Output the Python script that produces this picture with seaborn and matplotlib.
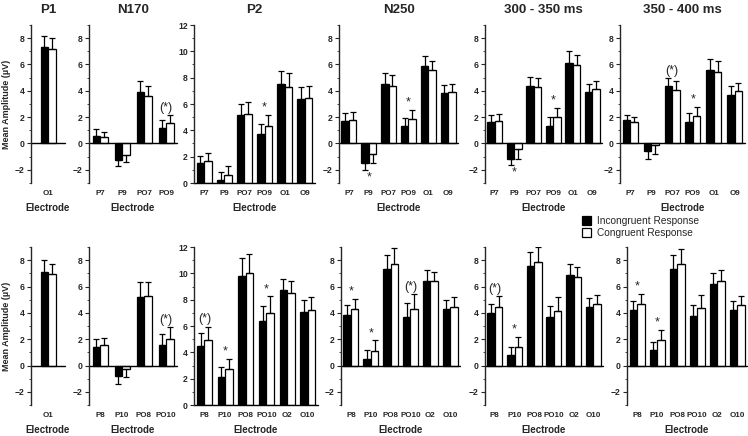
import matplotlib
matplotlib.use("Agg")
import matplotlib.pyplot as plt
from matplotlib.patches import Patch
from matplotlib.ticker import MultipleLocator
import pandas as pd
import seaborn as sns

components = ["P1", "N170", "P2", "N250", "300 - 350 ms", "350 - 400 ms"]
conditions = ["Incongruent Response", "Congruent Response"]

# top row (left hemisphere / midline electrodes)
left_electrodes = [
    ["O1"],
    ["P7", "P9", "PO7", "PO9"],
    ["P7", "P9", "PO7", "PO9", "O1", "O9"],
    ["P7", "P9", "PO7", "PO9", "O1", "O9"],
    ["P7", "P9", "PO7", "PO9", "O1", "O9"],
    ["P7", "P9", "PO7", "PO9", "O1", "O9"],
]
left_incongruent = [
    [7.3],
    [0.6, -1.25, 3.9, 1.2],
    [1.5, 0.2, 5.2, 3.75, 7.5, 6.35],
    [1.7, -1.45, 4.5, 1.3, 5.85, 3.8],
    [1.65, -1.15, 4.4, 1.35, 6.15, 3.9],
    [1.75, -0.6, 4.35, 1.65, 5.55, 3.7],
]
left_incongruent_se = [
    [0.85],
    [0.5, 0.45, 0.85, 0.6],
    [0.55, 0.6, 0.8, 0.75, 1.0, 0.95],
    [0.6, 0.6, 0.85, 0.65, 0.8, 0.65],
    [0.5, 0.5, 0.65, 0.65, 0.85, 0.65],
    [0.45, 0.55, 0.6, 0.65, 0.85, 0.65],
]
left_congruent = [
    [7.15],
    [0.5, -0.85, 3.6, 1.55],
    [1.7, 0.6, 5.25, 4.3, 7.3, 6.45],
    [1.8, -0.8, 4.4, 1.85, 5.55, 3.9],
    [1.7, -0.4, 4.3, 2.0, 5.95, 4.15],
    [1.65, -0.15, 4.1, 2.1, 5.45, 4.0],
]
left_congruent_se = [
    [0.9],
    [0.4, 0.55, 0.8, 0.6],
    [0.6, 0.7, 0.9, 0.9, 1.05, 0.9],
    [0.6, 0.65, 0.8, 0.7, 0.75, 0.65],
    [0.55, 0.75, 0.7, 0.7, 0.75, 0.6],
    [0.4, 0.65, 0.65, 0.7, 0.85, 0.6],
]
left_marks = [
    {},
    {"PO9": "(*)"},
    {"PO9": "*"},
    {"P9": "*", "PO9": "*"},
    {"P9": "*", "PO9": "*"},
    {"PO7": "(*)", "PO9": "*"},
]

# bottom row (right hemisphere / midline electrodes)
right_electrodes = [
    ["O1"],
    ["P8", "P10", "PO8", "PO10"],
    ["P8", "P10", "PO8", "PO10", "O2", "O10"],
    ["P8", "P10", "PO8", "PO10", "O2", "O10"],
    ["P8", "P10", "PO8", "PO10", "O2", "O10"],
    ["P8", "P10", "PO8", "PO10", "O2", "O10"],
]
right_incongruent = [
    [7.07],
    [1.39, -0.78, 5.2, 1.57],
    [4.5, 2.1, 9.8, 6.35, 8.7, 7.05],
    [3.8, 0.5, 7.32, 3.69, 6.44, 4.27],
    [4.0, 0.78, 7.58, 3.71, 6.84, 4.44],
    [4.2, 1.19, 7.35, 3.79, 6.21, 4.22],
]
right_incongruent_se = [
    [0.93],
    [0.6, 0.6, 1.16, 0.8],
    [0.95, 0.8, 1.4, 1.2, 0.9, 0.95],
    [0.77, 0.7, 1.11, 1.03, 0.78, 0.73],
    [0.67, 0.63, 1.01, 0.84, 0.84, 0.69],
    [0.72, 0.58, 1.08, 0.78, 0.84, 0.65],
]
right_congruent = [
    [6.94],
    [1.52, -0.28, 5.25, 2.0],
    [4.9, 2.7, 10.05, 6.95, 8.5, 7.2],
    [4.27, 1.13, 7.68, 4.32, 6.39, 4.44],
    [4.44, 1.41, 7.83, 4.17, 6.72, 4.7],
    [4.65, 1.97, 7.68, 4.34, 6.39, 4.6],
]
right_congruent_se = [
    [0.76],
    [0.55, 0.6, 1.09, 0.9],
    [1.05, 0.8, 1.45, 1.3, 0.9, 1.0],
    [0.8, 0.77, 1.28, 1.08, 0.73, 0.78],
    [0.84, 0.79, 1.17, 1.06, 0.78, 0.65],
    [0.8, 0.73, 1.18, 0.99, 0.83, 0.65],
]
right_marks = [
    {},
    {"PO10": "(*)"},
    {"P8": "(*)", "P10": "*", "PO10": "*"},
    {"P8": "*", "P10": "*", "PO10": "(*)"},
    {"P8": "(*)", "P10": "*"},
    {"P8": "*", "P10": "*"},
]

W, H = 748, 436
top_spans = [(31, 65), (89, 177), (194, 315), (339, 458), (485, 602), (620, 745)]
bottom_spans = [(31, 65), (89, 177), (194, 318), (341, 460), (485, 603), (627, 747)]
rows = [(25, 183), (247, 405)]
PAIR_PX = 15  # width of a black+white bar pair in pixels

sns.set_style("ticks")
plt.rcParams["font.family"] = ["Liberation Sans", "DejaVu Sans"]

fig = plt.figure(figsize=(W / 100, H / 100), dpi=100)


def draw_panel(ax, elecs, inc, inc_se, con, con_se, marks, comp, bar_w):
    df = pd.DataFrame({
        "electrode": elecs * 2,
        "amp": inc + con,
        "cond": [conditions[0]] * len(elecs) + [conditions[1]] * len(elecs),
    })
    sns.barplot(data=df, x="electrode", y="amp", hue="cond", order=elecs,
                hue_order=conditions, palette=["black", "white"], saturation=1,
                edgecolor="black", linewidth=0.9, errorbar=None, width=bar_w,
                dodge=True, legend=False, ax=ax)
    ax.set_xlim(-0.5, len(elecs) - 0.5)

    for h, (cont, vals, ses) in enumerate(zip(ax.containers, [inc, con], [inc_se, con_se])):
        for i, (bar, v, s) in enumerate(zip(cont, vals, ses)):
            # keep every bar half of the pair width, left/right of the category centre
            half = bar_w / 2
            bar.set_width(half)
            bar.set_x(i - half + h * half)
            xc = bar.get_x() + half / 2
            yerr = [[0], [s]] if v >= 0 else [[s], [0]]
            ax.errorbar(xc, v, yerr=yerr, fmt="none", ecolor="black",
                        elinewidth=0.9, capsize=2, capthick=0.9, zorder=1)

    for e, txt in marks.items():
        i = elecs.index(e)
        if inc[i] >= 0:
            y = max(inc[i] + inc_se[i], con[i] + con_se[i]) + 0.55
        else:
            y = min(inc[i] - inc_se[i], con[i] - con_se[i]) - 0.55
        ax.text(i, y, txt, ha="center", va="center", fontsize=9)

    if comp == "P2":
        ax.set_ylim(0, 12)
        ax.set_yticks(range(0, 13, 2))
    else:
        ax.set_ylim(-3, 9)
        ax.set_yticks(range(-2, 9, 2))
    ax.yaxis.set_minor_locator(MultipleLocator(1))
    ax.axhline(0, color="black", lw=1, clip_on=False)
    for side in ["top", "right", "bottom"]:
        ax.spines[side].set_visible(False)
    ax.spines["left"].set_linewidth(1)
    ax.tick_params(axis="x", length=0, pad=5, labelsize=5.8)
    ax.tick_params(axis="y", which="major", length=3, width=0.8, pad=1.5, labelsize=6.2)
    ax.tick_params(axis="y", which="minor", length=1.5, width=0.6)
    for lab in ax.get_xticklabels() + ax.get_yticklabels():
        lab.set_fontweight("bold")
    ax.set_xlabel("")
    ax.set_ylabel("")


row_data = [
    (top_spans, left_electrodes, left_incongruent, left_incongruent_se,
     left_congruent, left_congruent_se, left_marks),
    (bottom_spans, right_electrodes, right_incongruent, right_incongruent_se,
     right_congruent, right_congruent_se, right_marks),
]

for r, (spans, els, incs, inc_ses, cons, con_ses, mks) in enumerate(row_data):
    y0, y1 = rows[r]
    for k, comp in enumerate(components):
        x0, x1 = spans[k]
        ax = fig.add_axes([x0 / W, 1 - y1 / H, (x1 - x0) / W, (y1 - y0) / H])
        n = len(els[k])
        bar_w = PAIR_PX / ((x1 - x0) / n)
        draw_panel(ax, els[k], incs[k], inc_ses[k], cons[k], con_ses[k], mks[k], comp, bar_w)
        xc = (x0 + x1) / 2 / W
        if r == 0:
            fig.text(xc, 1 - 10 / H, comp, ha="center", va="center",
                     fontsize=9.5, fontweight="bold")
        fig.text(xc, 1 - (y1 + 25) / H, "Electrode", ha="center", va="center",
                 fontsize=7, fontweight="bold")
    fig.text(7 / W, 1 - (y0 + y1) / 2 / H, "Mean Amplitude (\u00b5V)", rotation=90,
             ha="center", va="center", fontsize=6.5, fontweight="bold")

handles = [Patch(facecolor="black", edgecolor="black", lw=0.9),
           Patch(facecolor="white", edgecolor="black", lw=0.9)]
fig.legend(handles, conditions, loc="upper left", bbox_to_anchor=(582 / W, 1 - 216 / H),
           frameon=False, fontsize=7.3, handlelength=0.9, handleheight=0.9,
           handletextpad=0.6, labelspacing=0.2, borderpad=0, borderaxespad=0)

fig.savefig("out.png", dpi=100)
